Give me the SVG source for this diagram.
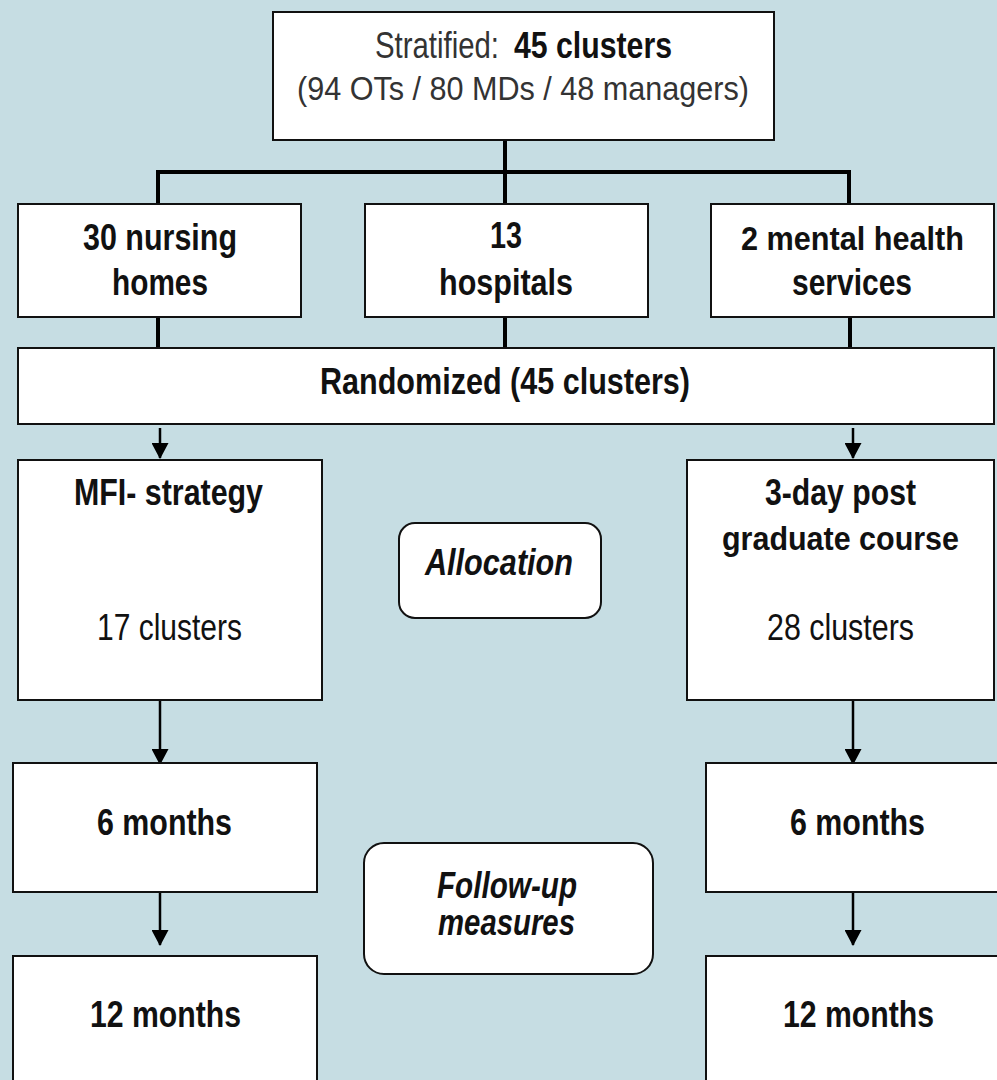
<svg xmlns="http://www.w3.org/2000/svg" width="997" height="1080" viewBox="0 0 997 1080">
<defs>
<marker id="ah" markerWidth="16" markerHeight="17" refX="15" refY="8.5" orient="auto" markerUnits="userSpaceOnUse" viewBox="0 0 16 17">
<path d="M0,0 L16,8.5 L0,17 Z" fill="#000"/>
</marker>
<style>
.box{fill:#fff;stroke:#111;stroke-width:2}
.t{font-family:"Liberation Sans",Arial,sans-serif;font-size:36px;fill:#111;text-anchor:middle}
.s{font-size:33px}
.b{font-weight:bold}
.i{font-style:italic;font-weight:bold}
.g{fill:#333}
.tree{stroke:#000;stroke-width:4;fill:none}
.arr{stroke:#000;stroke-width:2.5;fill:none}
</style>
</defs>
<rect width="997" height="1080" fill="#c6dde3"/>
<g id="connectors">
<path class="tree" d="M505,140 V205 M158,205 V172 H849 V205"/>
<path class="tree" d="M158,317 V348 M505,317 V348 M850,317 V348"/>
<path class="arr" d="M160,428 V458" marker-end="url(#ah)"/>
<path class="arr" d="M853,428 V458" marker-end="url(#ah)"/>
<path class="arr" d="M160,700 V764" marker-end="url(#ah)"/>
<path class="arr" d="M160,892 V945" marker-end="url(#ah)"/>
<path class="arr" d="M853,700 V764" marker-end="url(#ah)"/>
<path class="arr" d="M853,892 V945" marker-end="url(#ah)"/>
</g>
<g id="top">
<rect class="box" x="273" y="12" width="501" height="128"/>
<text class="t g" x="437" y="58" textLength="124" lengthAdjust="spacingAndGlyphs">Stratified:</text>
<text class="t b" x="593" y="58" textLength="158" lengthAdjust="spacingAndGlyphs">45 clusters</text>
<text class="t g s" x="523" y="100" textLength="452" lengthAdjust="spacingAndGlyphs">(94 OTs / 80 MDs / 48 managers)</text>
</g>
<g id="nursing">
<rect class="box" x="18" y="204" width="283" height="113"/>
<text class="t b" x="160" y="250" textLength="154" lengthAdjust="spacingAndGlyphs">30 nursing</text>
<text class="t b" x="160" y="295" textLength="96" lengthAdjust="spacingAndGlyphs">homes</text>
</g>
<g id="hospitals">
<rect class="box" x="365" y="204" width="283" height="113"/>
<text class="t b" x="506" y="248" textLength="32" lengthAdjust="spacingAndGlyphs">13</text>
<text class="t b" x="506" y="295" textLength="134" lengthAdjust="spacingAndGlyphs">hospitals</text>
</g>
<g id="mental">
<rect class="box" x="711" y="204" width="283" height="113"/>
<text class="t b s" x="852.5" y="250" textLength="223" lengthAdjust="spacingAndGlyphs">2 mental health</text>
<text class="t b" x="852" y="295" textLength="120" lengthAdjust="spacingAndGlyphs">services</text>
</g>
<g id="randomized">
<rect class="box" x="18" y="348" width="976" height="76"/>
<text class="t b" x="505" y="394" textLength="370" lengthAdjust="spacingAndGlyphs">Randomized (45 clusters)</text>
</g>
<g id="mfi">
<rect class="box" x="18" y="460" width="304" height="240"/>
<text class="t b" x="168.5" y="505" textLength="189" lengthAdjust="spacingAndGlyphs">MFI- strategy</text>
<text class="t" x="169.5" y="640" textLength="145" lengthAdjust="spacingAndGlyphs">17 clusters</text>
</g>
<g id="course">
<rect class="box" x="687" y="460" width="307" height="240"/>
<text class="t b" x="840.5" y="505" textLength="151" lengthAdjust="spacingAndGlyphs">3-day post</text>
<text class="t b s" x="840.5" y="550" textLength="237" lengthAdjust="spacingAndGlyphs">graduate course</text>
<text class="t" x="840.5" y="640" textLength="147" lengthAdjust="spacingAndGlyphs">28 clusters</text>
</g>
<g id="allocation">
<rect class="box" x="399" y="523" width="202" height="95" rx="16"/>
<text class="t i" x="499" y="575" textLength="148" lengthAdjust="spacingAndGlyphs">Allocation</text>
</g>
<g id="left6">
<rect class="box" x="13" y="763" width="304" height="129"/>
<text class="t b" x="164.5" y="835" textLength="135" lengthAdjust="spacingAndGlyphs">6 months</text>
</g>
<g id="left12">
<rect class="box" x="13" y="956" width="304" height="140"/>
<text class="t b" x="165.5" y="1027" textLength="151" lengthAdjust="spacingAndGlyphs">12 months</text>
</g>
<g id="followup">
<rect class="box" x="364" y="843" width="289" height="131" rx="20"/>
<text class="t i" x="507" y="898" textLength="140" lengthAdjust="spacingAndGlyphs">Follow-up</text>
<text class="t i" x="506.5" y="935" textLength="137" lengthAdjust="spacingAndGlyphs">measures</text>
</g>
<g id="right6">
<rect class="box" x="706" y="763" width="300" height="129"/>
<text class="t b" x="857.5" y="835" textLength="135" lengthAdjust="spacingAndGlyphs">6 months</text>
</g>
<g id="right12">
<rect class="box" x="706" y="956" width="300" height="140"/>
<text class="t b" x="858.5" y="1027" textLength="151" lengthAdjust="spacingAndGlyphs">12 months</text>
</g>
</svg>
